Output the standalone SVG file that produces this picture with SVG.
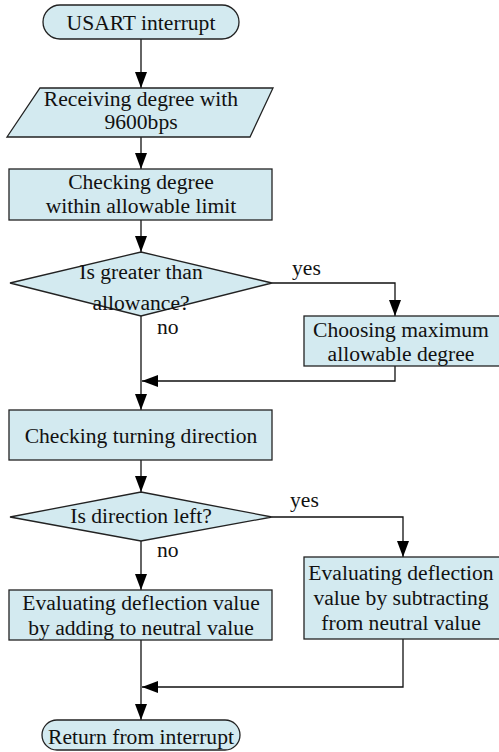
<svg xmlns="http://www.w3.org/2000/svg" width="499" height="752" viewBox="0 0 499 752">
<style>
.n{fill:#D3EAF0;stroke:#222;stroke-width:1.3}
.t{font-family:'Liberation Serif','Times New Roman',serif;font-size:21.6px;fill:#111;text-anchor:middle}
.l{font-family:'Liberation Serif','Times New Roman',serif;font-size:21.6px;fill:#111}
.c{fill:none;stroke:#111;stroke-width:1.3}
</style>
<defs>
<marker id="ah" markerUnits="userSpaceOnUse" markerWidth="16" markerHeight="12" refX="16" refY="6" orient="auto">
<path d="M0,0 L16,6 L0,12 Z" fill="#000"/>
</marker>
</defs>
<rect width="499" height="752" fill="#fff"/>
<g id="connectors">
<path class="c" d="M141,39 V88" marker-end="url(#ah)"/>
<path class="c" d="M141,137 V169" marker-end="url(#ah)"/>
<path class="c" d="M141,220 V252" marker-end="url(#ah)"/>
<path class="c" d="M272,283 H395 V316" marker-end="url(#ah)"/>
<path class="c" d="M141,316 V410" marker-end="url(#ah)"/>
<path class="c" d="M395,366 V381 H142" marker-end="url(#ah)"/>
<path class="c" d="M141,460 V492" marker-end="url(#ah)"/>
<path class="c" d="M272,517 H403 V557" marker-end="url(#ah)"/>
<path class="c" d="M141,541 V590" marker-end="url(#ah)"/>
<path class="c" d="M141,640 V720" marker-end="url(#ah)"/>
<path class="c" d="M403,639 V687 H142" marker-end="url(#ah)"/>
<text class="l" x="292" y="275">yes</text>
<text class="l" x="157" y="334">no</text>
<text class="l" x="290" y="507">yes</text>
<text class="l" x="157" y="557">no</text>
</g>
<g id="start">
<rect class="n" x="43" y="5" width="196" height="34" rx="17"/>
<text class="t" x="141" y="30">USART interrupt</text>
</g>
<g id="receive">
<polygon class="n" points="40,88 273,88 250,137 7,137"/>
<text class="t" x="141" y="106">Receiving degree with</text>
<text class="t" x="141" y="129">9600bps</text>
</g>
<g id="check-limit">
<rect class="n" x="9" y="169" width="263" height="51"/>
<text class="t" x="141" y="189">Checking degree</text>
<text class="t" x="141" y="213">within allowable limit</text>
</g>
<g id="decision-allowance">
<polygon class="n" points="141,252 272,283 141,316 10,283"/>
<text class="t" x="141" y="279">Is greater than</text>
<text class="t" x="141" y="310">allowance?</text>
</g>
<g id="choose-max">
<rect class="n" x="304" y="316" width="196" height="50"/>
<text class="t" x="401" y="337">Choosing maximum</text>
<text class="t" x="401" y="361">allowable degree</text>
</g>
<g id="check-direction">
<rect class="n" x="9" y="410" width="263" height="50"/>
<text class="t" x="141" y="443">Checking turning direction</text>
</g>
<g id="decision-left">
<polygon class="n" points="141,492 272,517 141,541 10,517"/>
<text class="t" x="141" y="523">Is direction left?</text>
</g>
<g id="eval-subtract">
<rect class="n" x="304" y="557" width="196" height="82"/>
<text class="t" x="401" y="580">Evaluating deflection</text>
<text class="t" x="401" y="605">value by subtracting</text>
<text class="t" x="401" y="630">from neutral value</text>
</g>
<g id="eval-add">
<rect class="n" x="9" y="590" width="263" height="50"/>
<text class="t" x="141" y="610">Evaluating deflection value</text>
<text class="t" x="141" y="635">by adding to neutral value</text>
</g>
<g id="end">
<rect class="n" x="42" y="720" width="198" height="30" rx="15"/>
<text class="t" x="141" y="744">Return from interrupt</text>
</g>
</svg>
